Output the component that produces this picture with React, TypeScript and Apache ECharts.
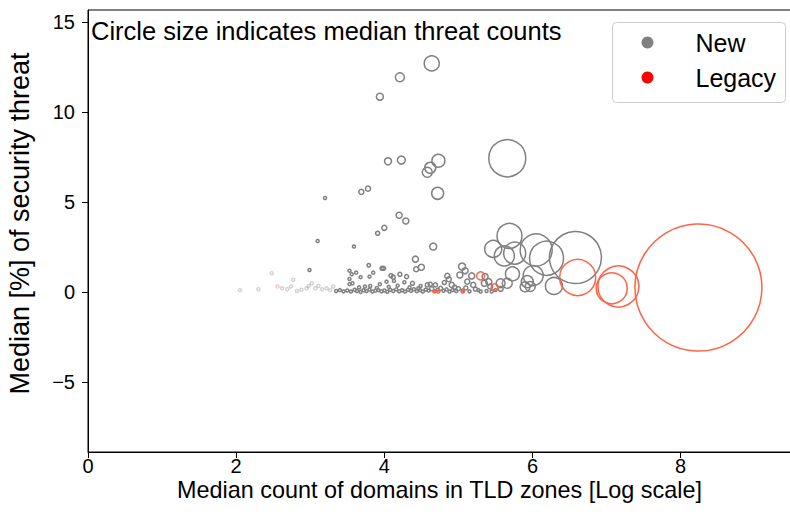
import React, { useEffect, useRef } from "react";
import * as echarts from "echarts";

// ---- Data ----
// "New" TLDs: x = log median domain count, y = median % threat, count = median threat count
const newX = [
  4.64, 4.21, 3.94, 4.05, 4.23, 4.73, 4.62, 4.58, 4.72, 3.2, 3.69, 3.78, 4.2, 4.29, 3.91, 4.0,
  5.66, 3.1, 3.59, 4.66, 4.42, 4.43, 4.5,
  6.58, 5.69, 5.47, 5.62, 5.76, 6.05, 6.19, 6.01, 5.73, 6.29, 5.9, 5.97, 5.93,
  3.79, 3.97, 3.99, 3.53, 3.62, 3.56, 3.85, 3.68, 3.8, 3.53, 4.09, 4.12, 4.21, 4.3, 4.03, 4.13, 4.27, 4.38, 3.94, 3.57, 3.53, 3.81, 4.58, 4.62, 4.69, 4.49,
  4.85, 4.87, 4.81, 4.91, 4.95, 5.05, 5.09, 5.02, 5.18, 5.36, 5.41, 5.12, 5.2, 5.23, 5.35, 5.43, 5.57, 5.57, 5.3, 5.45, 5.66,
  3.35, 3.4, 3.45, 3.5, 3.55, 3.6, 3.63, 3.68, 3.72, 3.76, 3.8, 3.84, 3.88, 3.92, 3.96, 4.0, 4.04, 4.08, 4.12, 4.16, 4.2, 4.24, 4.28, 4.32, 4.36, 4.4, 4.44, 4.48, 4.52, 4.56, 4.6, 4.64, 4.68, 4.72, 4.76, 4.8, 4.84, 4.88, 4.92, 4.97, 5.0, 5.06, 5.1, 5.15, 5.27, 5.38, 5.5,
  3.66, 3.74, 3.9, 4.06, 4.18, 4.34, 4.46,
  2.05, 2.3, 2.48, 2.62, 2.69, 2.74, 2.77, 2.82, 2.88, 2.95, 2.98, 2.99, 3.02, 3.07, 3.11, 3.16, 3.22, 3.27, 3.31,
];
const newY = [
  12.7, 11.93, 10.85, 7.26, 7.33, 7.29, 6.9, 6.65, 5.48, 5.22, 5.56, 5.74, 4.26, 3.94, 3.26, 3.56,
  7.43, 2.83, 2.52, 2.52, 1.82, 1.26, 1.37,
  1.91, 3.11, 2.39, 2.0, 2.15, 2.33, 1.87, 0.91, 1.0, 0.33, 0.28, 0.3, 0.57,
  1.48, 1.31, 1.31, 1.18, 1.07, 0.98, 1.07, 0.82, 0.85, 0.72, 0.91, 0.82, 0.98, 0.85, 0.57, 0.61, 0.54, 0.48, 0.43, 0.48, 0.43, 0.33, 0.39, 0.43, 0.39, 0.33,
  0.89, 0.7, 0.52, 0.39, 0.26, 1.41, 1.18, 0.94, 0.89, 0.85, 0.57, 0.57, 0.39, 0.15, 0.48, 0.3, 0.48, 0.17, 0.02, 0.02, 0.48,
  0.05, 0.1, 0.03, 0.08, 0.02, 0.12, 0.05, 0.0, 0.09, 0.04, 0.13, 0.02, 0.07, 0.1, 0.03, 0.08, 0.01, 0.11, 0.05, 0.14, 0.03, 0.09, 0.02, 0.12, 0.06, 0.15, 0.04, 0.1, 0.02, 0.13, 0.07, 0.18, 0.03, 0.12, 0.2, 0.06, 0.14, 0.02, 0.1, 0.05, 0.18, 0.08, 0.22, 0.03, 0.1, 0.05, 0.1,
  0.25, 0.3, 0.22, 0.28, 0.35, 0.25, 0.2,
  0.1, 0.15, 1.04, 0.2, 0.15, 0.3, 0.67, 0.05, 0.12, 0.2, 0.33, 1.22, 0.48, 0.2, 0.33, 0.15, 0.2, 0.1, 0.3,
];
const newCount = [
  225, 81, 49, 49, 64, 169, 121, 100, 144, 9, 25, 25, 36, 36, 16, 25,
  1369, 9, 9, 49, 36, 25, 36,
  2704, 625, 289, 400, 484, 1024, 1156, 400, 196, 289, 100, 100, 144,
  12, 16, 16, 9, 9, 9, 9, 9, 9, 9, 16, 16, 16, 16, 9, 9, 9, 16, 9, 9, 9, 9, 16, 16, 16, 9,
  25, 25, 16, 25, 16, 49, 36, 36, 36, 36, 36, 25, 25, 16, 36, 25, 81, 25, 9, 9, 100,
  9, 9, 9, 9, 9, 9, 9, 9, 9, 9, 9, 9, 9, 9, 9, 9, 9, 9, 9, 9, 9, 9, 9, 9, 9, 9, 9, 9, 9, 9, 9, 16, 9, 9, 16, 9, 9, 9, 9, 9, 16, 9, 16, 9, 9, 9, 9,
  9, 9, 9, 9, 9, 9, 9,
  9, 9, 9, 9, 9, 9, 9, 9, 9, 9, 9, 9, 9, 9, 9, 9, 9, 9, 9,
];

// "Legacy" TLDs
const legacyX = [8.24, 7.16, 7.07, 6.61, 5.3, 5.49, 5.06, 4.73, 4.67, 2.56];
const legacyY = [0.24, 0.3, 0.2, 0.8, 0.89, 0.26, 0.02, 0.02, 0.02, 0.3];
const legacyCount = [16129, 1681, 961, 1296, 64, 49, 9, 9, 4, 9];

const xTicks = [0, 2, 4, 6, 8];
const yTicks = [-5, 0, 5, 10, 15];

const FONT = "'Liberation Sans', Arial, Helvetica, sans-serif";
const NEW_COLOR = "#808080";
const LEGACY_COLOR = "#ff6347";

function buildData(xs: number[], ys: number[], cs: number[]) {
  return xs.map((x, i) => ({
    value: [x, ys[i], cs[i]],
    itemStyle: { opacity: x < 3.35 && ys[i] < 1.1 ? 0.35 : 1 },
  }));
}

export default function App() {
  const ref = useRef<HTMLDivElement>(null);
  useEffect(() => {
    if (!ref.current) return;
    const chart = echarts.init(ref.current, undefined, { renderer: "svg" });
    const sizeFn = (v: number[]) => Math.sqrt(v[2]);
    chart.setOption({
      animation: false,
      backgroundColor: "#fff",
      textStyle: { fontFamily: FONT },
      grid: {
        left: 88,
        top: 10,
        right: -1,
        bottom: 68,
        containLabel: false,
        outerBoundsMode: "none",
        show: true,
        borderColor: "#000",
        borderWidth: 1,
        backgroundColor: "transparent",
      },
      title: {
        text: "Circle size indicates median threat counts",
        left: 91,
        top: 18,
        padding: 0,
        textStyle: { fontFamily: FONT, fontSize: 25.5, fontWeight: "normal", color: "#000" },
      },
      xAxis: {
        type: "value",
        min: 0,
        max: 9.49,
        interval: 2,
        name: "Median count of domains in TLD zones [Log scale]",
        nameLocation: "middle",
        nameGap: 28,
        nameMoveOverlap: false,
        nameTextStyle: { fontFamily: FONT, fontSize: 23.4, lineHeight: 20, color: "#000" },
        splitLine: { show: false },
        axisLine: { show: true, onZero: false, lineStyle: { color: "#000", width: 1 } },
        axisTick: { show: true, inside: false, length: 6, lineStyle: { color: "#000" }, customValues: xTicks },
        axisLabel: {
          customValues: xTicks,
          color: "#000",
          fontFamily: FONT,
          fontSize: 20,
          lineHeight: 16,
          margin: 6,
        },
      },
      yAxis: {
        type: "value",
        min: -8.9,
        max: 15.67,
        name: "Median [%] of security threat",
        nameLocation: "middle",
        nameGap: 55,
        nameMoveOverlap: false,
        nameTextStyle: { fontFamily: FONT, fontSize: 27, color: "#000", padding: [0, 0, 0, 15] },
        splitLine: { show: false },
        axisLine: { show: true, onZero: false, lineStyle: { color: "#000", width: 1 } },
        axisTick: { show: true, inside: false, length: 6, lineStyle: { color: "#000" }, customValues: yTicks },
        axisLabel: {
          customValues: yTicks,
          color: "#000",
          fontFamily: FONT,
          fontSize: 20,
          margin: 13,
          formatter: (v: number) => (v < 0 ? "\u2212" + Math.abs(v) : String(v)),
        },
      },
      series: [
        {
          name: "New",
          type: "scatter",
          symbol: "circle",
          symbolSize: sizeFn,
          data: buildData(newX, newY, newCount),
          itemStyle: { color: "rgba(0,0,0,0)", borderColor: NEW_COLOR, borderWidth: 1.5 },
          emphasis: { disabled: true },
        },
        {
          name: "Legacy",
          type: "scatter",
          symbol: "circle",
          symbolSize: sizeFn,
          data: buildData(legacyX, legacyY, legacyCount),
          itemStyle: { color: "rgba(0,0,0,0)", borderColor: LEGACY_COLOR, borderWidth: 1.5 },
          emphasis: { disabled: true },
        },
      ],
      graphic: [
        {
          type: "group",
          left: 612,
          top: 22,
          z: 100,
          children: [
            {
              type: "rect",
              shape: { x: 0, y: 0, width: 173, height: 80, r: 4 },
              style: { fill: "rgba(255,255,255,0.8)", stroke: "#cccccc", lineWidth: 1 },
            },
            { type: "circle", shape: { cx: 35, cy: 20, r: 6 }, style: { fill: NEW_COLOR } },
            { type: "circle", shape: { cx: 35, cy: 55, r: 6 }, style: { fill: "#ff0000" } },
            {
              type: "text",
              x: 83,
              y: 20,
              style: { text: "New", fill: "#000", font: `25px ${FONT}`, verticalAlign: "middle" },
            },
            {
              type: "text",
              x: 83,
              y: 55,
              style: { text: "Legacy", fill: "#000", font: `25px ${FONT}`, verticalAlign: "middle" },
            },
          ],
        },
      ],
    });
    return () => chart.dispose();
  }, []);
  return <div ref={ref} style={{ width: 790, height: 520, position: "fixed", left: 0, top: 0 }} />;
}
